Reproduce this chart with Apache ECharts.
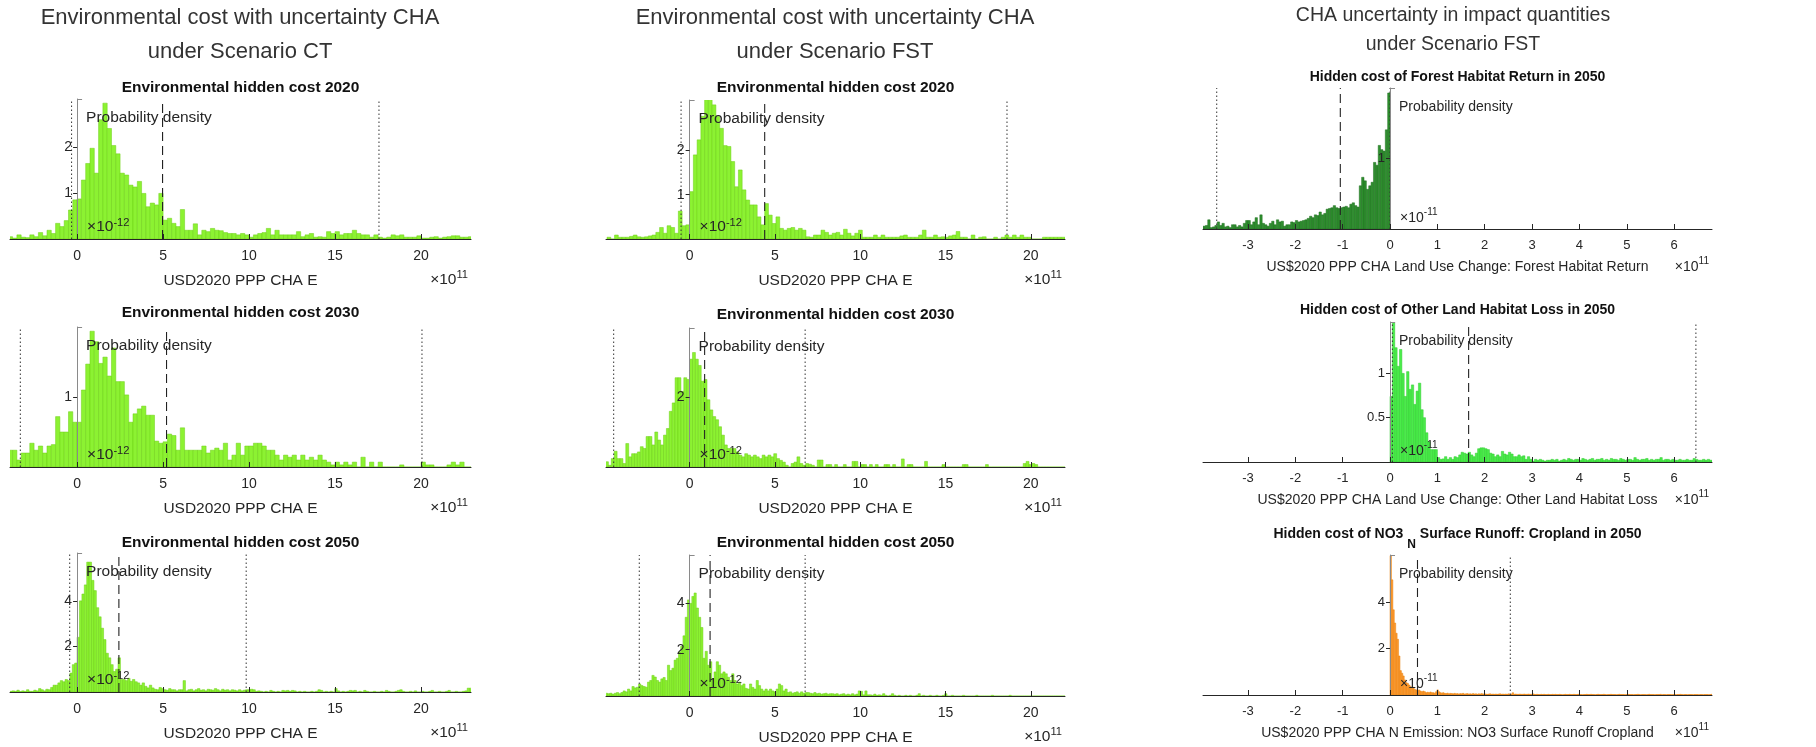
<!DOCTYPE html>
<html>
<head>
<meta charset="utf-8">
<script src="https://cdn.jsdelivr.net/npm/echarts@6/dist/echarts.min.js"></script>
<style>
html, body { margin: 0; padding: 0; background: #fff; }
#chart { width: 1816px; height: 747px; }
</style>
</head>
<body>
<div id="chart"></div>
<script>
// ---- histogram data (probability density, bins of equal width from a start value) ----
const ctE2020Start = -4.0, ctE2020Bin = 0.25;
const ctE2020Density = [0.05,0.02,0.09,0.04,0.03,0.09,0.05,0.14,0.07,0.19,0.12,0.34,0.27,0.40,0.63,0.85,
  0.87,1.28,1.64,1.97,1.43,2.59,2.95,2.40,2.03,1.85,1.43,1.39,1.17,1.13,1.25,0.99,0.70,0.78,0.74,0.99,
  0.41,0.45,0.34,0.27,0.64,0.19,0.19,0.33,0.09,0.19,0.16,0.23,0.19,0.18,0.14,0.12,0.12,0.09,0.12,0.09,
  0.04,0.09,0.12,0.14,0.23,0.09,0.19,0.09,0.09,0.09,0.09,0.16,0.05,0.09,0.12,0.04,0.05,0.04,0.16,0.12,
  0.16,0.09,0.12,0.12,0.19,0.12,0.09,0.09,0.04,0.09,0.04,0.02,0.04,0.09,0.07,0.09,0.04,0.04,0.04,0.07,
  0.02,0.02,0.04,0.05,0.02,0.04,0.05,0.07,0.07,0.04,0.04,0.05];
const ctE2020Lines = [4.97, -0.32, 17.55]; // mean, low, high

const ctE2030Start = -4.0, ctE2030Bin = 0.25;
const ctE2030Density = [0.24,0.24,0.10,0.20,0.20,0.34,0.24,0.30,0.20,0.30,0.32,0.72,0.50,0.50,0.79,0.64,
  0.64,1.10,1.47,1.94,1.79,1.48,1.57,1.30,1.70,1.22,1.22,1.03,0.64,0.76,0.83,0.87,0.74,0.74,0.37,0.34,
  0.36,0.47,0.45,0.24,0.56,0.24,0.24,0.24,0.24,0.30,0.20,0.24,0.27,0.24,0.34,0.10,0.17,0.34,0.17,0.30,
  0.30,0.34,0.34,0.30,0.24,0.24,0.17,0.10,0.17,0.14,0.17,0.10,0.17,0.10,0.14,0.10,0.17,0.10,0.07,0.03,
  0.07,0.03,0.07,0.03,0.07,0,0.14,0,0.07,0,0.07,0,0,0,0,0.03,0,0,0,0,
  0.07,0.03,0.03,0,0,0,0.03,0.07,0.03,0.07,0,0];
const ctE2030Lines = [5.2, -3.3, 20.05];

const ctE2050Start = -3.92, ctE2050Bin = 0.14;
const ctE2050Density = [0.03,0.05,0.03,0.08,0.02,0.05,0.03,0.10,0.03,0.03,0.08,0.05,0.15,0.10,0.05,0.12,0.10,0.20,0.30,0.30,
  0.40,0.50,0.45,0.55,0.50,0.83,1.20,1.27,
  2.4,4.0,4.3,4.7,5.7,5.7,4.9,4.45,3.7,3.3,2.8,2.3,1.7,1.5,1.2,0.9,1.0,1.5,0.55,0.55,
  0.5,0.6,0.47,0.55,0.45,0.4,0.3,0.4,0.25,0.18,0.3,0.18,0.12,0.1,0.2,0.15,0.1,0.08,0.15,0.1,
  0.1,0.05,0.1,0.1,0.5,0.05,0.1,0.12,0.05,0.1,0.15,0.08,0.1,0.05,0.12,0.1,0.08,0.15,0.1,0.05,
  0.12,0.08,0.1,0.05,0.1,0.08,0.05,0.1,0.05,0.08,0.1,
  0.1,0.12,0.1,0.03,0.05,0.03,0,0.03,0,0.07,0.03,0,0.03,0,0.07,0.05,0.07,0.03,0.07,0.05,
  0,0.03,0,0.03,0,0,0.03,0,0.03,0.1,0.07,0,0.03,0,0.03,0,0.15,0.05,0,0.03,
  0,0.03,0.07,0.05,0.07,0,0.03,0,0.07,0.03,0,0,0.03,0,0,0.03,0,0.07,0.03,0,
  0,0.03,0.07,0.1,0.03,0,0,0.03,0,0.05,0,0,0.03,0,0,0.03,0.07,0,0,0.03,
  0,0,0.03,0.07,0,0,0.03,0,0,0.03,0.05,0.17,0.17];
const ctE2050Lines = [2.43, -0.43, 9.83];

const fstE2020Start = -4.84, fstE2020Bin = 0.22;
const fstE2020Density = [0.04,0,0.09,0.04,0.04,0.04,0.06,0.09,0.05,0.04,0.05,0.07,0.09,0.15,0.26,0.13,0.3,0.26,0.13,0.63,0.3,0.32,
  1.07,1.9,2.24,2.77,3.15,3.16,3.03,2.77,2.5,2.11,2.09,1.75,1.18,1.56,1.11,0.88,0.77,0.77,0.5,0.32,
  0.8,0.54,0.35,0.5,0.24,0.2,0.24,0.26,0.2,0.24,0.2,0.05,0.04,0.09,0.09,0.2,0.15,0.09,0.13,0.15,
  0.09,0.22,0.13,0.07,0.13,0.2,0.04,0.04,0.04,0.09,0.04,0.09,0.04,0.04,0.04,0.04,0.07,0.09,0.04,0.04,
  0.04,0.09,0.2,0.04,0.04,0.09,0.04,0.05,0.04,0.07,0.09,0.17,0.04,0.04,0,0.09,0,0.04,0.05,0,
  0,0.04,0,0.04,0.09,0.04,0.09,0.04,0.09,0.04,0.04,0,0,0,0.04,0.04,0.04,0.04,0.04,0.04];
const fstE2020Lines = [4.4, -0.5, 18.6];

const fstE2030Start = -4.93, fstE2030Bin = 0.17;
const fstE2030Density = [0.15,0.05,0.24,0.45,0.24,0.24,0.1,0.67,0.29,0.38,0.38,0.43,0.58,0.53,0.87,0.87,0.63,1.0,0.77,0.63,
  0.91,1.1,1.59,1.83,2.55,2.55,2.16,2.55,2.5,
  3.08,3.27,3.08,2.9,2.45,2.5,1.92,1.63,1.44,1.35,1.15,0.91,0.63,0.53,0.53,0.53,0.43,0.34,0.29,0.38,
  0.34,0.29,0.34,0.29,0.24,0.34,0.29,0.34,0.29,0.38,0.24,0.19,0.14,0.05,0,0.1,0.14,0.29,0.1,0.05,
  0.1,0.08,0.05,
  0,0.2,0.2,0,0.07,0.07,0,0.07,0,0,0.07,0,0,0.16,0.16,0,0.07,0.07,0,0.07,
  0,0.07,0,0,0.07,0.07,0,0.07,0,0,0.23,0,0.07,0.07,0,0,0,0,0.16,0,
  0,0,0,0,0.07,0,0,0,0,0,0,0.07,0.07,0,0,0,0,0,0,0.07,
  0,0,0,0,0,0,0,0,0,0,0,0,0.1,0.16,0.07,0.1,0.07,0,0,0,
  0,0,0,0,0,0,0];
const fstE2030Lines = [0.88, -4.45, 6.77];

const fstE2050Start = -4.94, fstE2050Bin = 0.13;
const fstE2050Density = [0.12,0.1,0.12,0.08,0.12,0.15,0.1,0.15,0.22,0.18,0.3,0.22,0.41,0.35,0.38,0.52,0.45,0.41,0.38,0.6,
  0.67,0.89,0.82,0.67,0.6,0.74,0.8,0.67,1.33,1.1,1.2,1.55,1.63,1.9,2.15,2.6,3.4,4.15,
  4.0,4.3,4.45,3.8,3.4,2.96,1.63,1.93,1.33,1.48,0.74,1.04,1.48,1.33,0.96,1.04,0.96,0.81,0.67,0.96,
  0.67,0.52,0.6,0.45,0.52,0.33,0.3,0.52,0.37,0.3,0.67,0.45,0.3,0.22,0.3,0.22,0.3,0.22,0.18,0.3,
  0.52,0.45,0.22,0.3,0.15,0.18,0.12,0.15,0.18,0.12,0.18,0.12,0.15,
  0.15,0.12,0.1,0.15,0.1,0.12,0.08,0.1,0.12,0.08,0.1,0.1,
  0.08,0.1,0.05,0.08,0.1,0.05,0.08,0.05,0.1,0.05,0.08,
  0.22,0.2,0.05,0.22,0.05,0.05,0.03,0.08,0.03,0.05,0.03,0.1,0.03,0,0.03,0.1,
  0.03,0,0.03,0,0,0.03,0,0.03,0,0,0.03,0.1,
  0,0.03,0,0,0.03,0,0,0.03,0,0,0.03,0.1,
  0,0,0.03,0,0,0,0,0.03,0,0,0,0,0,0.03,0,0,0,0,0,0,
  0.03,0,0,0,0,0,0,0,0.03,0,0,0,0,0,0,0,0,0,0,0,
  0,0,0,0,0,0,0,0,0,0,0,0,0,0];
const fstE2050Lines = [1.2, -2.95, 6.77];

const forestStart = -3.95, forestBin = 0.05;
const forestDensity = [0.04,0.05,0.13,0.02,0.03,0.05,0.1,0.05,0.08,0.03,0.04,0.02,0.06,0.06,0.03,0.05,0.03,0.08,0.12,0.12,
  0.06,0.1,0.16,0.06,0.2,0.08,0.06,0.04,0.08,0.11,0.06,0.13,0.1,0.11,0.04,0.06,0.06,0.1,0.09,0.12,
  0.1,0.11,0.12,0.13,0.15,0.18,0.16,0.2,0.19,0.24,0.2,0.22,0.28,0.29,0.3,0.33,0.3,0.29,0.3,0.31,
  0.32,0.3,0.35,0.37,0.33,0.31,0.61,0.73,0.68,0.56,0.61,0.66,0.94,0.9,1.18,1.12,1.1,1.4,1.92];
const forestLines = [-1.05, -3.66, 0.0];

const otherLandStart = 0, otherLandBin = 0.05;
const otherLandDensity = [0.74,1.59,1.29,1.08,1.27,1.0,0.74,1.02,0.82,0.87,0.65,0.8,0.89,0.59,0.5,0.33,0.23,0.14,0.14,0.14,
  0.05,0.03,0.035,0.06,0.03,0.05,0.03,0.06,0.05,0.08,0.11,0.1,0.09,0.11,0.08,0.06,0.1,0.15,0.16,0.16,
  0.15,0.14,0.1,0.09,0.06,0.08,0.06,0.12,0.09,0.08,0.11,0.09,0.06,0.06,0.08,0.06,0.07,0.03,0.06,0.03,
  0.01,0.03,0.02,0.03,0.02,0.01,0.02,
  0.02,0.03,0.02,0.03,0.01,0.02,0.03,0.02,0.04,0.03,0.02,0.03,0.03,0.02,0.04,0.03,0.02,0.03,0.04,0.02,
  0.03,0.03,0.04,0.02,0.03,0.02,0.04,0.03,0.03,0.02,0.04,0.03,0.02,0.03,0.03,0.02,0.05,0.03,0.02,0.03,
  0.03,0.04,0.02,0.03,0.02,0.03,0.03,0.05,0.02,0.03,0.03,0.02,0.03,0.02,0.02,0.03,0.02,0.02,0.03,0.02,
  0.02,0.04,0.03,0.02,0.02,0.03,0.02,0.03,0.02];
const otherLandLines = [1.66, 0.05, 6.46];

const no3Start = 0, no3Bin = 0.03;
const no3Density = [6.0,4.96,3.67,3.1,2.66,2.4,1.68,1.05,0.94,0.82,0.65,0.53,0.5,0.43,0.36,0.29,0.33,0.24,0.22,0.19,
  0.22,0.17,0.14,0.17,0.14,0.1,0.12,0.1,0.13,0.1,0.1,0.08,0.14,0.22,0.14,0.1,0.08,0.1,
  0.07,0.06,0.08,0.05,0.07,0.06,0.05,0.07,0.05,0.06,0.04,0.06,0.05,0.07,0.04,0.05,0.06,0.04,0.05,0.04,
  0.06,0.04,0.05,0.03,0.05,0.04,0.06,0.04,0.05,
  0.04,0.03,0.04,0.05,0.03,0.04,0.03,0.04,0.03,0.04,0.05,0.03,0.04,0.03,0.04,0.03,0.05,0.03,0.04,0.1,
  0.03,0.04,0.03,0.03,0.04,0.03,0.03,0.04,0.03,0.03,0.04,0.03,0.03,0.05,
  0.03,0.02,0.03,0.02,0.02,0.03,0.02,0.03,0.02,0.02,0.03,0.02,0.02,0.03,
  0.02,0.03,0.02,0.02,0.03,0.02,0.01,0.02,0.03,0.02,0.02,0.03,0.02,0.02,
  0.03,0.02,0.02,0.03,0.02,0.02,0.01,0.02,0.02,0.03,0.02,0.02,0.03,0.02,
  0.02,0.01,0.02,0.03,0.02,0.02,0.02,0.03,0.02,0.01,0.02,0.02,0.03,0.02,
  0.02,0.02,0.01,0.02,0.03,0.02,0.02,0.02,0.01,0.02,0.03,0.02,0.02,0.02,
  0.01,0.02,0.02,0.03,0.02,0.01,0.02,0.02,0.02,0.01,0.02,0.03,0.02,0.02,
  0.02,0.01,0.02,0.02,0.02,0.03,0.01,0.02,0.02,0.01,0.02,0.02,0.02,0.01,
  0.02,0.02,0.01,0.02,0.02,0.03,0.02,0.01,0.02,0.02,0.01,0.02,0.02,0.02,
  0.01,0.02,0.02,0.02,0.01,0.02,0.02,0.01,0.02,0.02,0.02,0.01,0.02,0.03];
const no3Lines = [0.58, 0.01, 2.54];

// axis ticks and texts
const costTicks = [0, 5, 10, 15, 20];
const impactTicks = [-3, -2, -1, 0, 1, 2, 3, 4, 5, 6];
const columnTitles = [
  ['Environmental cost with uncertainty CHA', 'under Scenario CT'],
  ['Environmental cost with uncertainty CHA', 'under Scenario FST'],
  ['CHA uncertainty in impact quantities', 'under Scenario FST']
];
const panelTitles = ['Environmental hidden cost 2020', 'Environmental hidden cost 2030', 'Environmental hidden cost 2050',
  'Environmental hidden cost 2020', 'Environmental hidden cost 2030', 'Environmental hidden cost 2050',
  'Hidden cost of Forest Habitat Return in 2050', 'Hidden cost of Other Land Habitat Loss in 2050',
  '{t|Hidden cost of NO3 }{s|N}{t| Surface Runoff: Cropland in 2050}'];
const xLabels = ['USD2020 PPP CHA E', 'USD2020 PPP CHA E', 'USD2020 PPP CHA E',
  'USD2020 PPP CHA E', 'USD2020 PPP CHA E', 'USD2020 PPP CHA E',
  'US$2020 PPP CHA Land Use Change: Forest Habitat Return',
  'US$2020 PPP CHA Land Use Change: Other Land Habitat Loss',
  'US$2020 PPP CHA N Emission: NO3 Surface Runoff Cropland'];

// ---- panel setup (column-major order) ----
const panels = [
  {h: ctE2020Density, s: ctE2020Start, b: ctE2020Bin, lines: ctE2020Lines, x: [-3.9, 22.9], yTop: 3.04, yTicks: [1, 2], exp: '-12'},
  {h: ctE2030Density, s: ctE2030Start, b: ctE2030Bin, lines: ctE2030Lines, x: [-3.9, 22.9], yTop: 2.0, yTicks: [1], exp: '-12'},
  {h: ctE2050Density, s: ctE2050Start, b: ctE2050Bin, lines: ctE2050Lines, x: [-3.9, 22.9], yTop: 6.1, yTicks: [2, 4], exp: '-12'},
  {h: fstE2020Density, s: fstE2020Start, b: fstE2020Bin, lines: fstE2020Lines, x: [-4.9, 22.0], yTop: 3.14, yTicks: [1, 2], exp: '-12'},
  {h: fstE2030Density, s: fstE2030Start, b: fstE2030Bin, lines: fstE2030Lines, x: [-4.9, 22.0], yTop: 3.97, yTicks: [2], exp: '-12'},
  {h: fstE2050Density, s: fstE2050Start, b: fstE2050Bin, lines: fstE2050Lines, x: [-4.9, 22.0], yTop: 6.09, yTicks: [2, 4], exp: '-12'},
  {h: forestDensity, s: forestStart, b: forestBin, lines: forestLines, x: [-3.95, 6.8], yTop: 1.99, yTicks: [1], exp: '-11'},
  {h: otherLandDensity, s: otherLandStart, b: otherLandBin, lines: otherLandLines, x: [-3.95, 6.8], yTop: 1.58, yTicks: [0.5, 1], exp: '-11'},
  {h: no3Density, s: no3Start, b: no3Bin, lines: no3Lines, x: [-3.95, 6.8], yTop: 6.03, yTicks: [2, 4], exp: '-11'}
];

// layout: [left, top, width, height], title y
const boxes = [
  [10, 99, 461, 140], [10, 327, 461, 140], [10, 553, 461, 139],
  [606, 100, 459, 139], [606, 328, 459, 139], [606, 555, 459, 141],
  [1203, 88, 509, 141], [1203, 322, 509, 140], [1203, 555, 509, 140]
];
const titleY = [88, 313, 543, 88, 315, 543, 77, 310, 539];
const colors = [
  ['#8cf232', '#6ccf14'], ['#8cf232', '#6ccf14'], ['#8cf232', '#6ccf14'],
  ['#8cf232', '#6ccf14'], ['#8cf232', '#6ccf14'], ['#8cf232', '#6ccf14'],
  ['#2f8f2f', '#1f6e1f'], ['#4aec4a', '#30cc30'], ['#ff9a30', '#e8820e']
];
const colFont = [
  {tick: 14, label: 15.5, title: 15.5, head: 22, gap: 41.5},
  {tick: 14, label: 15.5, title: 15.5, head: 22, gap: 41.5},
  {tick: 13, label: 14, title: 14, head: 19.5, gap: 38.5}
];

const FONT = '"Liberation Sans", Arial, Helvetica, sans-serif';
const INK = '#262626';

function binsOf(start, bin, heights) {
  return heights.map((v, i) => [start + i * bin, start + (i + 1) * bin, v]);
}

function barRenderer(fill, edge) {
  return function (params, api) {
    const a = api.coord([api.value(0), 0]);
    const b = api.coord([api.value(1), api.value(2)]);
    return {
      type: 'rect',
      shape: {x: a[0], y: b[1], width: b[0] - a[0], height: a[1] - b[1]},
      style: {fill: fill, stroke: edge, lineWidth: 0.5}
    };
  };
}

const chart = echarts.init(document.getElementById('chart'));
const option = {backgroundColor: '#fff', animation: false, grid: [], xAxis: [], yAxis: [], series: []};

panels.forEach((p, i) => {
  const col = Math.floor(i / 3);
  const f = colFont[col];
  const [left, top, width, height] = boxes[i];
  option.grid.push({left: left, top: top, width: width, height: height});
  const ticks = col === 2 ? impactTicks : costTicks;
  // the y axis sits where x = 0 (distance from the grid's left edge)
  const zeroShift = (0 - p.x[0]) / (p.x[1] - p.x[0]) * width;
  option.xAxis.push({
    type: 'value', gridIndex: i, min: p.x[0], max: p.x[1], z: 10,
    axisLine: {onZero: false, lineStyle: {color: INK, width: 1}},
    axisTick: {inside: true, length: 5, customValues: ticks, lineStyle: {color: INK}},
    axisLabel: {customValues: ticks, color: INK, fontSize: f.tick, fontFamily: FONT, margin: 10},
    splitLine: {show: false}
  });
  option.yAxis.push({
    type: 'value', gridIndex: i, min: 0, max: p.yTop, position: 'left', offset: -zeroShift, z: 10,
    axisLine: {onZero: false, lineStyle: {color: '#8a8a8a', width: 1}},
    axisTick: {inside: false, length: 4, customValues: p.yTicks, lineStyle: {color: INK}},
    axisLabel: {customValues: p.yTicks, color: INK, fontSize: f.tick, fontFamily: FONT, margin: 5},
    splitLine: {show: false}
  });
  option.series.push({
    type: 'custom', xAxisIndex: i, yAxisIndex: i, clip: true, silent: true,
    data: binsOf(p.s, p.b, p.h), encode: {x: [0, 1], y: 2},
    renderItem: barRenderer(colors[i][0], colors[i][1]), z: 2
  });
  // mean (dashed) and interval bounds (dotted)
  p.lines.forEach((v, k) => {
    option.series.push({
      type: 'line', xAxisIndex: i, yAxisIndex: i, silent: true, symbol: 'none', z: 5,
      data: [[v, 0], [v, p.yTop]],
      lineStyle: k === 0 ? {color: '#222', width: 1.1, type: [9, 5]} : {color: '#333', width: 1, type: [1.5, 2.5]}
    });
  });
});

chart.setOption(option);

// ---- texts ----
const g = [];
function txt(text, x, y, size, opts) {
  opts = opts || {};
  g.push({
    type: 'text', z: 100, silent: true,
    style: Object.assign({
      text: text, x: x, y: y, fill: opts.fill || INK, fontSize: size, fontFamily: FONT,
      fontWeight: opts.weight || 'normal',
      align: opts.align || 'center', textAlign: opts.align || 'center',
      verticalAlign: 'middle', textVerticalAlign: 'middle'
    }, opts.rich ? {rich: opts.rich} : {})
  });
}

const heads = [[240, 18, 52], [835, 18, 52], [1453, 16, 45]];
columnTitles.forEach((t, c) => {
  txt(t[0], heads[c][0], heads[c][1], colFont[c].head, {fill: '#333'});
  txt(t[1], heads[c][0], heads[c][2], colFont[c].head, {fill: '#333'});
});

panels.forEach((p, i) => {
  const col = Math.floor(i / 3);
  const f = colFont[col];
  const [left, top, width] = boxes[i];
  const tp = chart.convertToPixel({gridIndex: i}, [0, p.yTop]);
  const bp = chart.convertToPixel({gridIndex: i}, [0, 0]);
  txt(panelTitles[i], left + width / 2, titleY[i], f.title, {
    weight: 'bold', fill: '#111',
    rich: {
      t: {fontSize: f.title, fontWeight: 'bold', fontFamily: FONT, fill: '#111', lineHeight: 23, verticalAlign: 'top'},
      s: {fontSize: 12, fontWeight: 'bold', fontFamily: FONT, fill: '#111', lineHeight: 23, verticalAlign: 'bottom'}
    }
  });
  txt('Probability density', tp[0] + 9, tp[1] + 19, f.label, {align: 'left'});
  txt('{a|×10}{b|' + p.exp + '}', tp[0] + 10, bp[1] - 13, f.label, {
    align: 'left',
    rich: {
      a: {fontSize: f.label, fontFamily: FONT, fill: INK, lineHeight: 18, verticalAlign: 'bottom'},
      b: {fontSize: f.label * 0.72, fontFamily: FONT, fill: INK, lineHeight: 18, verticalAlign: 'top'}
    }
  });
  txt(xLabels[i], left + width / 2, bp[1] + f.gap, f.label);
  txt('{a|×10}{b|11}', left + width - 3, bp[1] + f.gap - 2, f.label, {
    align: 'right',
    rich: {
      a: {fontSize: f.label, fontFamily: FONT, fill: INK, lineHeight: 18, verticalAlign: 'bottom'},
      b: {fontSize: f.label * 0.72, fontFamily: FONT, fill: INK, lineHeight: 18, verticalAlign: 'top'}
    }
  });
  // small cap at the top of the y axis
  g.push({
    type: 'line', z: 100, silent: true,
    shape: {x1: tp[0], y1: tp[1] + 0.5, x2: tp[0] + 5, y2: tp[1] + 0.5},
    style: {stroke: '#8a8a8a', lineWidth: 1}
  });
});

chart.setOption({graphic: {elements: g}});
</script>
</body>
</html>
